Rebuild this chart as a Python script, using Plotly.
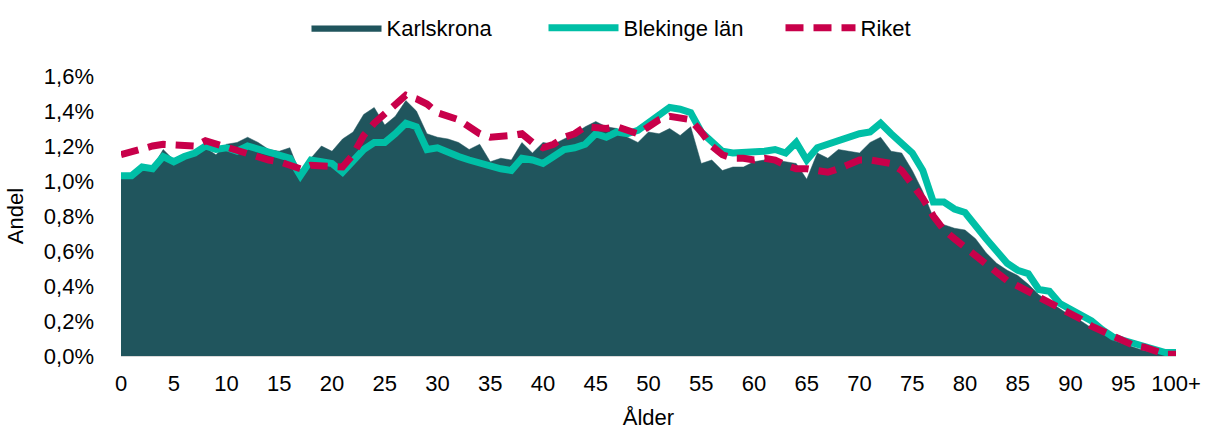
import plotly.graph_objects as go

ages = list(range(0, 101))
tick_vals = list(range(0, 101, 5))
tick_text = [str(v) for v in range(0, 100, 5)] + ["100+"]
y_tick_vals = [0, 0.2, 0.4, 0.6, 0.8, 1.0, 1.2, 1.4, 1.6]
y_tick_text = ["0,0%", "0,2%", "0,4%", "0,6%", "0,8%", "1,0%", "1,2%", "1,4%", "1,6%"]

karlskrona = [1.03, 1.04, 1.08, 1.08, 1.18, 1.12, 1.15, 1.16, 1.19, 1.15,
              1.21, 1.22, 1.25, 1.22, 1.18, 1.17, 1.19, 1.04, 1.13, 1.20,
              1.17, 1.24, 1.28, 1.38, 1.42, 1.32, 1.37, 1.46, 1.40, 1.27,
              1.25, 1.24, 1.22, 1.18, 1.21, 1.11, 1.13, 1.12, 1.22, 1.16,
              1.22, 1.21, 1.24, 1.27, 1.31, 1.34, 1.31, 1.30, 1.25, 1.22,
              1.28, 1.27, 1.30, 1.26, 1.31, 1.10, 1.12, 1.06, 1.08, 1.08,
              1.11, 1.12, 1.12, 1.11, 1.10, 1.01, 1.16, 1.13, 1.18, 1.17,
              1.16, 1.22, 1.25, 1.17, 1.16, 1.06, 0.94, 0.79, 0.75, 0.73,
              0.72, 0.67, 0.59, 0.53, 0.49, 0.46, 0.41, 0.35, 0.31, 0.27,
              0.23, 0.20, 0.16, 0.13, 0.10, 0.07, 0.05, 0.03, 0.02, 0.01,
              0.005]

blekinge = [1.03, 1.03, 1.08, 1.07, 1.14, 1.11, 1.14, 1.16, 1.20, 1.18,
            1.19, 1.17, 1.20, 1.18, 1.16, 1.15, 1.13, 1.03, 1.12, 1.11,
            1.10, 1.05, 1.11, 1.18, 1.22, 1.22, 1.27, 1.33, 1.31, 1.18,
            1.19, 1.16, 1.14, 1.12, 1.10, 1.08, 1.07, 1.06, 1.13, 1.12,
            1.10, 1.14, 1.18, 1.19, 1.21, 1.27, 1.25, 1.28, 1.27, 1.29,
            1.33, 1.37, 1.42, 1.41, 1.39, 1.28, 1.22, 1.17, 1.16, 1.16,
            1.16, 1.17, 1.18, 1.16, 1.22, 1.12, 1.19, 1.21, 1.23, 1.26,
            1.27, 1.28, 1.33, 1.27, 1.21, 1.16, 1.06, 0.88, 0.88, 0.84,
            0.82, 0.74, 0.67, 0.60, 0.53, 0.49, 0.47, 0.38, 0.37, 0.30,
            0.27, 0.24, 0.20, 0.15, 0.11, 0.09, 0.07, 0.05, 0.03, 0.02,
            0.02]

riket = [1.15, 1.17, 1.19, 1.20, 1.21, 1.21, 1.21, 1.20, 1.23, 1.21,
         1.19, 1.18, 1.16, 1.14, 1.12, 1.11, 1.09, 1.07, 1.09, 1.09,
         1.09, 1.08, 1.15, 1.26, 1.33, 1.38, 1.43, 1.49, 1.47, 1.44,
         1.39, 1.37, 1.35, 1.31, 1.27, 1.25, 1.25, 1.26, 1.27, 1.22,
         1.19, 1.21, 1.25, 1.27, 1.31, 1.30, 1.30, 1.31, 1.29, 1.27,
         1.31, 1.35, 1.37, 1.36, 1.35, 1.28, 1.20, 1.15, 1.13, 1.13,
         1.12, 1.13, 1.12, 1.09, 1.07, 1.07, 1.06, 1.05, 1.07, 1.10,
         1.12, 1.12, 1.11, 1.10, 1.06, 0.98, 0.90, 0.80, 0.72, 0.67,
         0.62, 0.57, 0.52, 0.48, 0.43, 0.40, 0.37, 0.34, 0.31, 0.28,
         0.24, 0.21, 0.17, 0.14, 0.11, 0.08, 0.06, 0.05, 0.03, 0.01,
         0.01]

FONT = "Liberation Sans, Arial, sans-serif"
FS = 22

fig = go.Figure()
fig.add_trace(go.Scatter(
    x=ages, y=karlskrona, name="Karlskrona", mode="lines",
    fill="tozeroy", fillcolor="#20555D",
    line=dict(color="#20555D", width=0.5),
))
fig.add_trace(go.Scatter(
    x=ages, y=blekinge, name="Blekinge län", mode="lines",
    line=dict(color="#00BFA6", width=7),
))
fig.add_trace(go.Scatter(
    x=ages, y=riket, name="Riket", mode="lines",
    line=dict(color="#C8004A", width=7, dash="18px,10px"),
))

fig.update_layout(
    width=1211, height=430,
    margin=dict(l=121, r=35, t=76, b=74, autoexpand=False),
    paper_bgcolor="white", plot_bgcolor="white",
    font=dict(family=FONT, size=FS, color="#000000"),
    showlegend=True,
    legend=dict(orientation="h", xref="container", yref="container",
                x=662 / 1211, xanchor="center", y=1 - 28 / 430, yanchor="middle",
                font=dict(family=FONT, size=FS), itemwidth=70, tracegroupgap=0,
                entrywidth=152, entrywidthmode="pixels",
                bgcolor="rgba(0,0,0,0)"),
    xaxis=dict(
        range=[0, 100], tickmode="array", tickvals=tick_vals, ticktext=tick_text,
        showgrid=False, zeroline=False, showline=True, linecolor="#D9D9D9", linewidth=1,
        ticks="", ticklabelstandoff=8, automargin=False,
        title=dict(text="Ålder", font=dict(family=FONT, size=FS), standoff=14),
        tickfont=dict(family=FONT, size=FS),
    ),
    yaxis=dict(
        range=[0, 1.6], tickmode="array", tickvals=y_tick_vals, ticktext=y_tick_text,
        showgrid=False, zeroline=False, showline=False, ticks="",
        ticklabelstandoff=26, automargin=False,
        title=dict(text="Andel", font=dict(family=FONT, size=FS), standoff=14),
        tickfont=dict(family=FONT, size=FS),
    ),
)

fig.write_html(
    "out.html",
    config={"displayModeBar": False},
    post_script="document.body.style.margin='0';document.body.style.padding='0';",
)
